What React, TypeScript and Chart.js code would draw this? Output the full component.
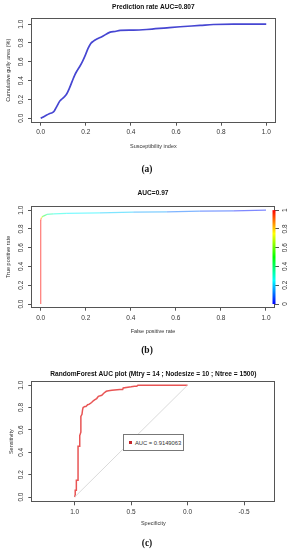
import React, { useEffect, useRef } from "react";
import { Chart, registerables } from "chart.js";

Chart.register(...registerables);

// ---------------- data ----------------
// (a) prediction rate curve
const susceptibilityIndex = [0, 0.019, 0.038, 0.052, 0.061, 0.071, 0.083, 0.092, 0.104, 0.115, 0.127, 0.139, 0.151, 0.163, 0.175, 0.186, 0.198, 0.21, 0.222, 0.234, 0.249, 0.271, 0.308, 0.33, 0.352, 0.411, 0.47, 0.56, 0.618, 0.707, 0.766, 0.855, 1.0];
const cumulativeGullyArea = [0, 0.025, 0.049, 0.06, 0.081, 0.124, 0.177, 0.2, 0.226, 0.258, 0.318, 0.389, 0.459, 0.512, 0.558, 0.608, 0.671, 0.742, 0.795, 0.82, 0.841, 0.866, 0.915, 0.922, 0.933, 0.936, 0.943, 0.961, 0.972, 0.986, 0.996, 1.0, 1.0];

// (b) ROC curve coloured by cutoff
const falsePositiveRate = [0, 0, 0.003, 0.006, 0.012, 0.027, 0.056, 0.115, 0.263, 0.411, 0.56, 0.707, 0.855, 1.0];
const truePositiveRate = [0, 0.894, 0.918, 0.929, 0.936, 0.954, 0.961, 0.965, 0.972, 0.979, 0.982, 0.989, 0.993, 1.0];
const cutoffValue = [1.0, 0.98, 0.8, 0.65, 0.5, 0.38, 0.3, 0.26, 0.22, 0.18, 0.13, 0.08, 0.04, 0.0];

// (c) RandomForest ROC
const specificity = [1.0, 0.995, 0.995, 0.985, 0.985, 0.97, 0.97, 0.955, 0.955, 0.945, 0.945, 0.935, 0.93, 0.925, 0.91, 0.9, 0.885, 0.87, 0.85, 0.835, 0.82, 0.805, 0.79, 0.76, 0.74, 0.72, 0.7, 0.67, 0.6, 0.575, 0.57, 0.5, 0.47, 0.45, 0.44, 0.0];
const sensitivity = [0.0, 0.02, 0.06, 0.06, 0.15, 0.15, 0.455, 0.455, 0.55, 0.58, 0.72, 0.74, 0.78, 0.8, 0.81, 0.81, 0.825, 0.83, 0.845, 0.86, 0.87, 0.88, 0.9, 0.91, 0.93, 0.945, 0.95, 0.955, 0.96, 0.96, 0.975, 0.985, 0.99, 0.99, 1.0, 1.0];
const chanceSpecificity = [1, 0];
const chanceSensitivity = [0, 1];
const aucLegendText = "AUC = 0.9149063";

// ticks
const unitTicks = [0, 0.2, 0.4, 0.6, 0.8, 1.0];
const colorbarTicks = [0, 0.2, 0.4, 0.6, 0.8, 1];
const specificityTicks = [1.0, 0.5, 0.0, -0.5];

// texts
const titleA = "Prediction rate AUC=0.807";
const titleB = "AUC=0.97";
const titleC = "RandomForest AUC plot (Mtry = 14 ; Nodesize = 10 ; Ntree = 1500)";
const panelLabels = ["(a)", "(b)", "(c)"];

// ---------------- styling helpers ----------------
const FONT = "'Liberation Sans', Arial, Helvetica, sans-serif";
const INK = "#333333";
const BOX = "#555555";

const pts = (xs: number[], ys: number[]) => xs.map((x, i) => ({ x, y: ys[i] }));
const fixedTicks = (vals: number[]) => (scale: any) => {
  scale.ticks = vals.map((v) => ({ value: v }));
};
const fmt1 = (v: any) => Number(v).toFixed(1);
const cutoffColor = (c: number, a: number) => `hsla(${240 * (1 - c)}, 100%, 50%, ${a})`;

function axis(o: any) {
  const horizontal = o.position === "bottom";
  return {
    type: "linear",
    position: o.position,
    min: o.min,
    max: o.max,
    reverse: !!o.reverse,
    afterBuildTicks: fixedTicks(o.ticks),
    afterFit: (s: any) => {
      if (horizontal) s.height = o.size;
      else s.width = o.size;
    },
    grid: { drawOnChartArea: false, drawTicks: true, tickLength: o.tickLength ?? 3, color: BOX, lineWidth: 1 },
    border: { display: false },
    ticks: {
      autoSkip: false,
      font: { family: FONT, size: 6.5 },
      color: INK,
      padding: o.pad,
      minRotation: horizontal ? 0 : 90,
      maxRotation: horizontal ? 0 : 90,
      crossAlign: horizontal ? "near" : "center",
      callback: o.fmt,
    },
    title: o.title
      ? { display: true, text: o.title, font: { family: FONT, size: 5.5 }, color: INK, padding: o.titlePad }
      : { display: false },
  };
}

function titleOpts(text: string, top: number, bottom: number) {
  return {
    display: true,
    text,
    fullSize: false,
    color: "#111",
    font: { family: FONT, size: 6.6, weight: "bold" },
    padding: { top, bottom },
  };
}

const boxPlugin = {
  id: "rbox",
  afterDraw(chart: any) {
    const { ctx, chartArea } = chart;
    const { left, top, right, bottom } = chartArea;
    ctx.save();
    ctx.strokeStyle = BOX;
    ctx.lineWidth = 1;
    ctx.strokeRect(Math.round(left) + 0.5, Math.round(top) + 0.5, Math.round(right - left) - 1, Math.round(bottom - top) - 1);
    ctx.restore();
  },
};

const colorbarPlugin = {
  id: "colorbar",
  afterDraw(chart: any) {
    const s = chart.scales.y2;
    if (!s) return;
    const { ctx, chartArea } = chart;
    const y0 = s.getPixelForValue(0);
    const y1 = s.getPixelForValue(1);
    const g = ctx.createLinearGradient(0, y0, 0, y1);
    for (let i = 0; i <= 24; i++) {
      const c = i / 24;
      g.addColorStop(c, cutoffColor(c, 1));
    }
    ctx.save();
    ctx.fillStyle = g;
    ctx.fillRect(chartArea.right - 2.5, y1, 3, y0 - y1);
    ctx.restore();
  },
};

// ---------------- chart configs ----------------
function configA(): any {
  return {
    type: "line",
    data: {
      datasets: [
        {
          data: pts(susceptibilityIndex, cumulativeGullyArea),
          borderColor: "#4646d2",
          borderWidth: 1.7,
          pointRadius: 0,
          cubicInterpolationMode: "monotone",
        },
      ],
    },
    options: {
      responsive: false,
      animation: false,
      layout: { padding: { left: 0, right: 20.3, top: 0, bottom: 0 } },
      plugins: { legend: { display: false }, tooltip: { enabled: false }, title: titleOpts(titleA, 2.8, 7.1) },
      scales: {
        x: axis({ position: "bottom", min: -0.043, max: 1.042, ticks: unitTicks, fmt: fmt1, size: 57.3, pad: 2.4, title: "Susceptibility index", titlePad: { top: 0, bottom: 30.7 } }),
        y: axis({ position: "left", min: -0.047, max: 1.067, ticks: unitTicks, fmt: fmt1, size: 31, pad: 1.8, title: "Cumulative gully area (%)", titlePad: { top: 5, bottom: 0 } }),
      },
    },
    plugins: [boxPlugin],
  };
}

function configB(): any {
  return {
    type: "line",
    data: {
      datasets: [
        {
          data: pts(falsePositiveRate, truePositiveRate),
          borderWidth: 1.3,
          pointRadius: 0,
          tension: 0,
          segment: {
            borderColor: (ctx: any) => cutoffColor((cutoffValue[ctx.p0DataIndex] + cutoffValue[ctx.p1DataIndex]) / 2, 0.5),
          },
        },
      ],
    },
    options: {
      responsive: false,
      animation: false,
      layout: { padding: { left: 0, right: 0, top: 0, bottom: 0 } },
      plugins: { legend: { display: false }, tooltip: { enabled: false }, title: titleOpts(titleB, 9.4, 8.8) },
      scales: {
        x: axis({ position: "bottom", min: -0.043, max: 1.04, ticks: unitTicks, fmt: fmt1, size: 52.3, pad: 3.7, title: "False positive rate", titlePad: { top: 0, bottom: 25.7 } }),
        y: axis({ position: "left", min: -0.039, max: 1.043, ticks: unitTicks, fmt: fmt1, size: 31, pad: 1.8, title: "True positive rate", titlePad: { top: 5, bottom: 0 } }),
        y2: axis({ position: "right", min: -0.039, max: 1.043, ticks: colorbarTicks, fmt: (v: any) => String(v), size: 21, pad: 2, tickLength: 4 }),
      },
    },
    plugins: [boxPlugin, colorbarPlugin],
  };
}

function configC(): any {
  return {
    type: "line",
    data: {
      datasets: [
        {
          data: pts(chanceSpecificity, chanceSensitivity),
          borderColor: "#dadada",
          borderWidth: 1,
          pointRadius: 0,
        },
        {
          label: aucLegendText,
          data: pts(specificity, sensitivity),
          borderColor: "rgb(232, 84, 84)",
          borderWidth: 1.5,
          pointRadius: 0,
          tension: 0,
        },
      ],
    },
    options: {
      responsive: false,
      animation: false,
      layout: { padding: { left: 0, right: 20.7, top: 0, bottom: 0 } },
      plugins: { legend: { display: false }, tooltip: { enabled: false }, title: titleOpts(titleC, 10.4, 2.8) },
      scales: {
        x: axis({ position: "bottom", min: -0.777, max: 1.384, reverse: true, ticks: specificityTicks, fmt: fmt1, size: 47.7, pad: 2.8, title: "Specificity", titlePad: { top: 0, bottom: 23.7 } }),
        y: axis({ position: "left", min: -0.047, max: 1.036, ticks: unitTicks, fmt: fmt1, size: 31.3, pad: 2.1, title: "Sensitivity", titlePad: { top: 8.4, bottom: 0 } }),
      },
    },
    plugins: [boxPlugin],
  };
}

// ---------------- components ----------------
function ChartPanel({ top, height, make }: { top: number; height: number; make: () => any }) {
  const ref = useRef<HTMLCanvasElement | null>(null);
  useEffect(() => {
    if (!ref.current) return;
    const chart = new Chart(ref.current, make());
    return () => chart.destroy();
  }, []);
  return (
    <canvas
      ref={ref}
      width={296}
      height={height}
      style={{ position: "absolute", left: 0, top, width: 296, height, display: "block" }}
    />
  );
}

function PanelLabel({ text, centerY }: { text: string; centerY: number }) {
  return (
    <div
      style={{
        position: "absolute",
        left: 0,
        top: centerY - 6,
        width: 294,
        height: 12,
        lineHeight: "12px",
        textAlign: "center",
        fontFamily: "'Liberation Serif', 'Times New Roman', serif",
        fontWeight: "bold",
        fontSize: 9.5,
        color: "#111",
      }}
    >
      {text}
    </div>
  );
}

export default function App() {
  return (
    <div style={{ position: "absolute", left: 0, top: 0, width: 296, height: 550, background: "#fff", overflow: "hidden" }}>
      <ChartPanel top={0} height={180} make={configA} />
      <ChartPanel top={180} height={180} make={configB} />
      <ChartPanel top={360} height={190} make={configC} />
      <div
        style={{
          position: "absolute",
          left: 123,
          top: 434,
          width: 61,
          height: 17,
          boxSizing: "border-box",
          border: "1px solid #777",
          background: "#fff",
          display: "flex",
          alignItems: "center",
          fontFamily: FONT,
          fontSize: 5.8,
          color: "#333",
          whiteSpace: "nowrap",
        }}
      >
        <span style={{ display: "inline-block", width: 3.5, height: 3.5, background: "#c4262a", marginLeft: 4.5, marginRight: 3 }} />
        <span>{aucLegendText}</span>
      </div>
      <PanelLabel text={panelLabels[0]} centerY={169.3} />
      <PanelLabel text={panelLabels[1]} centerY={350} />
      <PanelLabel text={panelLabels[2]} centerY={543} />
    </div>
  );
}
